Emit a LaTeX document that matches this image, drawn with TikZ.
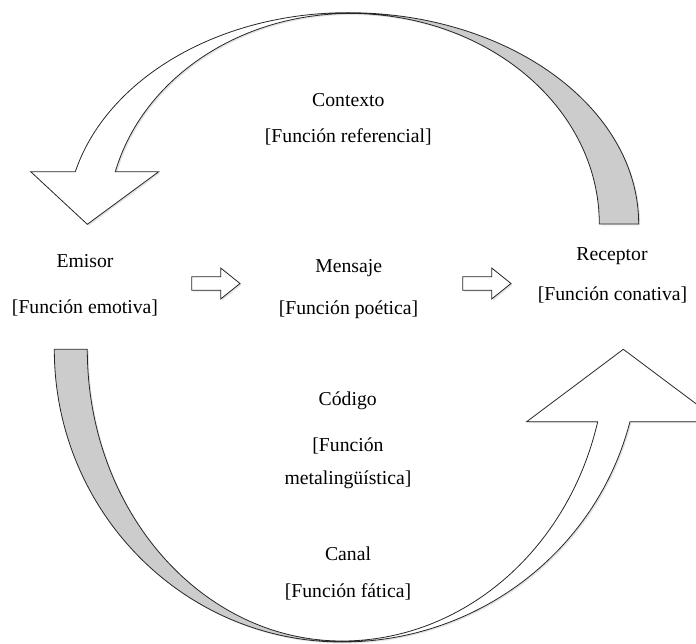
\documentclass[tikz,border=0pt]{standalone}
\usepackage{fontspec}
\setmainfont{Liberation Serif}
\usetikzlibrary{shadows}

\begin{document}
\begin{tikzpicture}[x=1pt,y=1pt,
    lbl/.style={font=\fontsize{19.7}{22}\selectfont, inner sep=0pt, text height=1.5ex, text depth=.25ex},
    front/.style={draw=black!85, line width=0.8pt, fill=white, drop shadow={opacity=0.22, shadow xshift=1.5pt, shadow yshift=-1.5pt}},
    back/.style={front, fill=black!20}]
    \useasboundingbox (0,0) rectangle (696,643);
    % contexto: curved arrow over the top
    \path[back] (348,630.3) arc[start angle=90, end angle=0, x radius=290.7, y radius=211.3]
        -- (599.3,419) arc[start angle=0, end angle=90, x radius=249.3, y radius=210.5] -- cycle;
    \path[front] (75.3,471.3) arc[start angle=165.67, end angle=90, x radius=281.5, y radius=211.3]
        -- (350,629.5) arc[start angle=90, end angle=165.6, x radius=242.3, y radius=210.5]
        -- (158.7,471.3) -- (87.3,418.7) -- (30.7,471.3) -- cycle;
    % codigo / canal: curved arrow under the bottom
    \path[back] (54.3,293.7) arc[start angle=180, end angle=270, x radius=287.7, y radius=292.7]
        -- (342,2) arc[start angle=270, end angle=180, x radius=254.7, y radius=291.7] -- cycle;
    \path[front] (342,1) arc[start angle=270, end angle=345.68, x radius=297.2, y radius=292.7]
        -- (720,221.3) -- (623.3,293.7) -- (526.7,221.3)
        -- (597.7,221.3) arc[start angle=345.63, end angle=270, x radius=264, y radius=291.7] -- cycle;
    % block arrows
    \foreach \x in {191.7,462.7}
        \path[front, shift={(\x,359.5)}] (0,-6.7) -- (29,-6.7) -- (29,-15.5) -- (48.3,0) -- (29,15.5) -- (29,6.7) -- (0,6.7) -- cycle;

    \node[lbl] (ctx)  at (348.3,539.7) {Contexto};
    \node[lbl] (ctxf) at (348.3,503)   {[Función referencial]};
    \node[lbl] (emi)  at (85,378)      {Emisor};
    \node[lbl] (emif) at (85,332)      {[Función emotiva]};
    \node[lbl] (men)  at (348.7,373)   {Mensaje};
    \node[lbl] (menf) at (348.5,331)   {[Función poética]};
    \node[lbl] (rec)  at (612,385)     {Receptor};
    \node[lbl] (recf) at (612.5,345)   {[Función conativa]};
    \node[lbl] (cod)  at (347.7,240.3) {Código};
    \node[lbl] (codf) at (348,194.7)   {[Función};
    \node[lbl] (codg) at (348,161.3)   {metalingüística]};
    \node[lbl] (can)  at (348,85)      {Canal};
    \node[lbl] (canf) at (348,48)      {[Función fática]};
\end{tikzpicture}
\end{document}
